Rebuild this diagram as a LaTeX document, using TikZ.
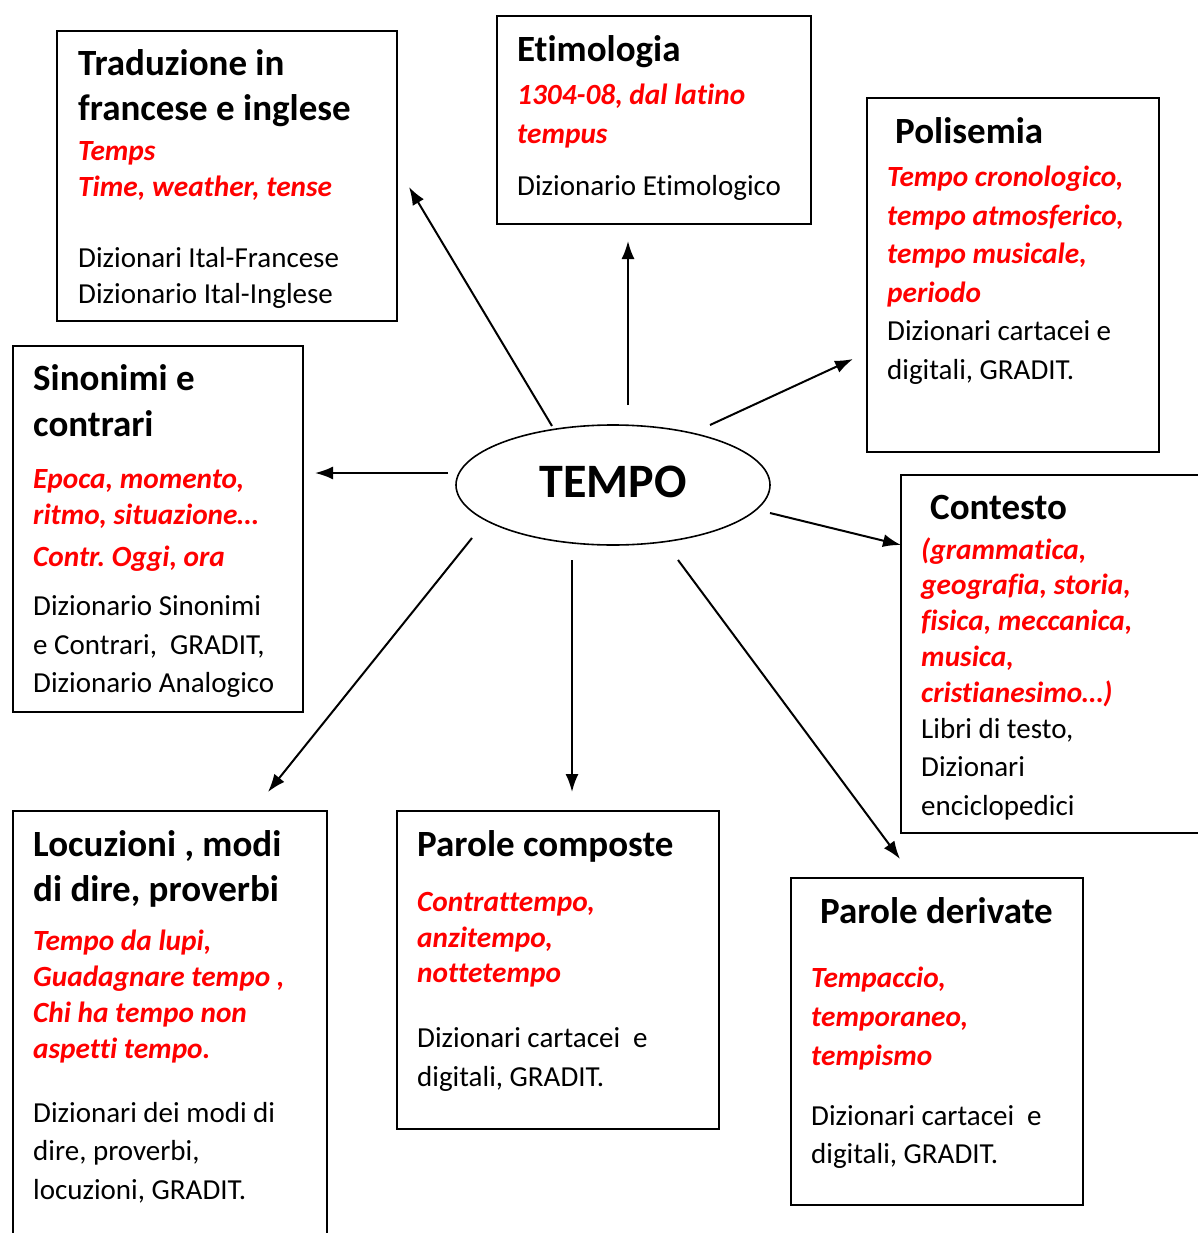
\documentclass[tikz,border=0pt]{standalone}
\usepackage{fontspec}
\setmainfont{Carlito}[Ligatures={NoCommon}]
\usetikzlibrary{arrows.meta,shapes.geometric}
\definecolor{redtxt}{RGB}{255,0,0}
\frenchspacing
\begin{document}
\begin{tikzpicture}[x=1pt,y=-1pt,
  box/.style={draw=black, line width=1.6pt, anchor=north west, inner sep=0pt},
  hd/.style={anchor=mid west, inner sep=0pt, yshift=-6pt, font=\fontsize{37}{44}\selectfont\bfseries},
  rd/.style={anchor=mid west, inner sep=0pt, yshift=-6pt, text=redtxt, font=\fontsize{29.3}{34}\selectfont\bfseries\itshape},
  bd/.style={anchor=mid west, inner sep=0pt, yshift=-6pt, font=\fontsize{29}{36}\selectfont},
  arr/.style={line width=2pt, -{Latex[length=18pt,width=13pt]}}]
\useasboundingbox (0,0) rectangle (1198,1233);
\clip (0,0) rectangle (1198,1233);
\fill[white] (0,0) rectangle (1198,1233);

% central ellipse
\node[ellipse, draw=black, line width=1.6pt, minimum width=314pt, minimum height=120pt, inner sep=0pt] (tempo) at (613,485) {};
\node[font=\fontsize{48}{48}\selectfont\bfseries, inner sep=0pt] (tempotxt) at (613,482) {TEMPO};

% boxes
\node[box, minimum width=340pt, minimum height=290pt] (b1) at (56,30) {};
\node[box, minimum width=314pt, minimum height=208pt] (b2) at (496,15) {};
\node[box, minimum width=292pt, minimum height=354pt] (b3) at (866,97) {};
\node[box, minimum width=290pt, minimum height=366pt] (b4) at (12,345) {};
\node[box, minimum width=330pt, minimum height=358pt] (b5) at (900,474) {};
\node[box, minimum width=314pt, minimum height=460pt] (b6) at (12,810) {};
\node[box, minimum width=322pt, minimum height=318pt] (b7) at (396,810) {};
\node[box, minimum width=292pt, minimum height=327pt] (b8) at (790,877) {};

% box 1
\node[hd] (t1a) at (78,67) {Traduzione in};
\node[hd] (t1b) at (78,112) {francese e inglese};
\node[rd] (t1c) at (78,152) {Temps};
\node[rd] (t1d) at (78,188) {Time, weather, tense};
\node[bd] (t1e) at (78,259) {Dizionari Ital-Francese};
\node[bd] (t1f) at (78,295) {Dizionario Ital-Inglese};

% box 2
\node[hd] (t2a) at (517,53) {Etimologia};
\node[rd] (t2b) at (517,96) {1304-08, dal latino};
\node[rd] (t2c) at (517,135) {tempus};
\node[bd] (t2d) at (517,187) {Dizionario Etimologico};

% box 3
\node[hd] (t3a) at (895,135) {Polisemia};
\node[rd] (t3b) at (887,178) {Tempo cronologico,};
\node[rd] (t3c) at (887,217) {tempo atmosferico,};
\node[rd] (t3d) at (887,255) {tempo musicale,};
\node[rd] (t3e) at (887,294) {periodo};
\node[bd] (t3f) at (887,332) {Dizionari cartacei e};
\node[bd] (t3g) at (887,371) {digitali, GRADIT.};

% box 4
\node[hd] (t4a) at (33,382) {Sinonimi e};
\node[hd] (t4b) at (33,428) {contrari};
\node[rd] (t4c) at (33,480) {Epoca, momento,};
\node[rd] (t4d) at (33,516) {ritmo, situazione…};
\node[rd] (t4e) at (33,558) {Contr. Oggi, ora};
\node[bd] (t4f) at (33,607) {Dizionario Sinonimi};
\node[bd] (t4g) at (33,646) {e Contrari,\ \ GRADIT,};
\node[bd] (t4h) at (33,684) {Dizionario Analogico};

% box 5
\node[hd] (t5a) at (930,511) {Contesto};
\node[rd] (t5b) at (921,551) {(grammatica,};
\node[rd] (t5c) at (921,586) {geografia, storia,};
\node[rd] (t5d) at (921,622) {fisica, meccanica,};
\node[rd] (t5e) at (921,658) {musica,};
\node[rd] (t5f) at (921,694) {cristianesimo…)};
\node[bd] (t5g) at (921,730) {Libri di testo,};
\node[bd] (t5h) at (921,768) {Dizionari};
\node[bd] (t5i) at (921,807) {enciclopedici};

% box 6
\node[hd] (t6a) at (33,848) {Locuzioni , modi};
\node[hd] (t6b) at (33,893) {di dire, proverbi};
\node[rd] (t6c) at (33,942) {Tempo da lupi,};
\node[rd] (t6d) at (33,978) {Guadagnare tempo ,};
\node[rd] (t6e) at (33,1014) {Chi ha tempo non};
\node[rd] (t6f) at (33,1050) {aspetti tempo.};
\node[bd] (t6g) at (33,1114) {Dizionari dei modi di};
\node[bd] (t6h) at (33,1152) {dire, proverbi,};
\node[bd] (t6i) at (33,1191) {locuzioni, GRADIT.};

% box 7
\node[hd] (t7a) at (417,848) {Parole composte};
\node[rd] (t7b) at (417,903) {Contrattempo,};
\node[rd] (t7c) at (417,939) {anzitempo,};
\node[rd] (t7d) at (417,974) {nottetempo};
\node[bd] (t7e) at (417,1039) {Dizionari cartacei\ \ e};
\node[bd] (t7f) at (417,1078) {digitali, GRADIT.};

% box 8
\node[hd] (t8a) at (820,915) {Parole derivate};
\node[rd] (t8b) at (811,979) {Tempaccio,};
\node[rd] (t8c) at (811,1018) {temporaneo,};
\node[rd] (t8d) at (811,1057) {tempismo};
\node[bd] (t8e) at (811,1117) {Dizionari cartacei\ \ e};
\node[bd] (t8f) at (811,1155) {digitali, GRADIT.};

% arrow end points
\coordinate (s1) at (552,426); \coordinate (e1) at (409,187);
\coordinate (s2) at (628,405); \coordinate (e2) at (628,241);
\coordinate (s3) at (710,425); \coordinate (e3) at (853,359);
\coordinate (s4) at (448,473); \coordinate (e4) at (315,473);
\coordinate (s5) at (770,513); \coordinate (e5) at (901,545);
\coordinate (s6) at (472,538); \coordinate (e6) at (268,792);
\coordinate (s7) at (572,560); \coordinate (e7) at (572,792);
\coordinate (s8) at (678,560); \coordinate (e8) at (900,859);

\draw[arr] (s1) -- (e1);
\draw[arr] (s2) -- (e2);
\draw[arr] (s3) -- (e3);
\draw[arr] (s4) -- (e4);
\draw[arr] (s5) -- (e5);
\draw[arr] (s6) -- (e6);
\draw[arr] (s7) -- (e7);
\draw[arr] (s8) -- (e8);
\end{tikzpicture}
\end{document}
